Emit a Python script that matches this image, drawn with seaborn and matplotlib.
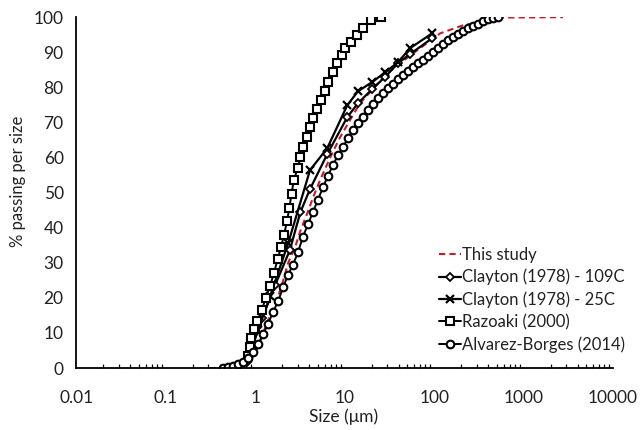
import matplotlib
matplotlib.use("Agg")
import matplotlib.pyplot as plt
from matplotlib.ticker import LogLocator, FixedLocator, FixedFormatter, NullFormatter
import seaborn as sns
import pandas as pd

# Particle size distributions (size in micrometres, cumulative % passing)
this_study_size = [0.31, 0.5, 0.7, 0.88, 1.08, 1.36, 1.76, 2.06, 2.34, 2.8, 3.19,
                   3.81, 4.45, 5.32, 6.89, 8.9, 11.5, 14.9, 29.8, 58.2, 117, 211,
                   391, 550, 2750]
this_study_pct = [0, 0.1, 0.6, 2.0, 6.0, 13.0, 19.5, 25.0, 30.0, 34.5, 39.0,
                  44.0, 48.7, 53.6, 60.0, 65.8, 70.7, 75.5, 84.0, 89.7, 95.4, 97.7,
                  98.9, 99.9, 100]

clayton_109c_size = [0.82, 0.94, 1.2, 1.67, 2.44, 3.2, 4.1, 6.4, 10.7, 14.1,
                     20.3, 28.4, 39.6, 54, 95]
clayton_109c_pct = [1.7, 6.6, 14.2, 23.6, 33.6, 44.4, 51.0, 61.0, 71.5, 75.5,
                    79.5, 83.0, 86.9, 89.5, 94.0]

clayton_25c_size = [0.88, 1.08, 1.47, 2.34, 4.1, 6.4, 10.7, 14.1, 20.3, 28.4,
                    39.6, 54, 95]
clayton_25c_pct = [4.6, 10.8, 20.5, 35.6, 56.4, 62.7, 74.9, 78.9, 81.5, 84.3,
                   87.2, 91.2, 95.4]

razoaki_size = [0.84, 0.87, 0.91, 0.97, 1.06, 1.18, 1.32, 1.47, 1.62, 1.78,
                1.95, 2.1, 2.28, 2.4, 2.55, 2.7, 3.0, 3.2, 3.4, 3.8, 4.1, 4.4,
                4.9, 5.5, 6.1, 6.5, 7.4, 8.2, 9.4, 10.1, 11.8, 13.8, 16.1, 19.8,
                25.6]
razoaki_pct = [3.5, 6.0, 8.5, 11.0, 13.5, 16.5, 20.0, 23.5, 27.0, 31.0,
               34.5, 38.0, 42.0, 45.5, 49.5, 53.6, 57.0, 60.1, 63.0, 65.8, 68.7,
               71.2, 73.8, 76.4, 78.9, 81.5, 84.3, 86.9, 89.2, 91.2, 92.9, 94.9,
               96.9, 99.1, 100]

alvarez_size = [0.439, 0.499, 0.568, 0.645, 0.734, 0.834, 0.949, 1.079, 1.226,
                1.394, 1.585, 1.803, 2.050, 2.330, 2.650, 3.013, 3.425, 3.895,
                4.428, 5.035, 5.725, 6.51, 7.40, 8.41, 9.57, 10.88, 12.37, 14.06,
                15.99, 18.18, 20.67, 23.50, 26.72, 30.38, 34.54, 39.28, 44.66,
                50.78, 57.73, 65.64, 74.64, 84.86, 96.49, 109.7, 124.7, 141.8,
                161.2, 183.3, 208.5, 237.0, 269.5, 306.4, 348.4, 396.1, 450.4,
                512.1]
alvarez_pct = [0, 0.3, 0.6, 1.1, 1.8, 2.9, 4.5, 6.8, 9.6, 12.6, 16.0, 19.0,
               23.0, 26.5, 29.5, 33.0, 37.5, 41.0, 44.5, 48.0, 51.5, 54.8, 57.8,
               60.7, 63.0, 65.5, 67.8, 69.8, 71.6, 73.5, 75.3, 76.9, 78.3, 79.8,
               81.1, 82.3, 83.5, 84.6, 85.8, 86.9, 87.9, 89.0, 90.1, 91.1, 92.3,
               93.4, 94.4, 95.2, 96.0, 96.8, 97.5, 98.2, 98.8, 99.4, 99.8, 100]

x_ticks = [0.01, 0.1, 1, 10, 100, 1000, 10000]
x_tick_labels = ["0.01", "0.1", "1", "10", "100", "1000", "10000"]
y_ticks = list(range(0, 101, 10))

sns.set_style("white")
plt.rcParams["font.family"] = ["Lato", "DejaVu Sans"]

fig = plt.figure(figsize=(6.4, 4.3), dpi=100)
ax = fig.add_axes([0.119, 0.144, 0.839, 0.816])

series = [
    ("This study", this_study_size, this_study_pct,
     dict(color="#c0202a", linestyle=(0, (3, 2)), linewidth=1.5, marker=None)),
    ("Clayton (1978) - 109C", clayton_109c_size, clayton_109c_pct,
     dict(color="black", linewidth=1.6, marker="D", markersize=4.5,
          markerfacecolor="white", markeredgecolor="black", markeredgewidth=1.3)),
    ("Clayton (1978) - 25C", clayton_25c_size, clayton_25c_pct,
     dict(color="black", linewidth=1.6, marker="x", markersize=6,
          markeredgecolor="black", markeredgewidth=1.6)),
    ("Razoaki (2000)", razoaki_size, razoaki_pct,
     dict(color="black", linewidth=1.4, marker="s", markersize=5.5,
          markerfacecolor="white", markeredgecolor="black", markeredgewidth=1.5)),
    ("Alvarez-Borges (2014)", alvarez_size, alvarez_pct,
     dict(color="black", linewidth=1.4, marker="o", markersize=5.5,
          markerfacecolor="white", markeredgecolor="black", markeredgewidth=1.5)),
]

for label, sx, sy, style in series:
    df = pd.DataFrame({"size": sx, "pct": sy})
    sns.lineplot(data=df, x="size", y="pct", ax=ax, label=label, sort=False,
                 estimator=None, **style)

ax.set_xscale("log")
ax.set_xlim(0.01, 10000)
ax.set_ylim(0, 100)

ax.xaxis.set_major_locator(FixedLocator(x_ticks))
ax.xaxis.set_major_formatter(FixedFormatter(x_tick_labels))
ax.xaxis.set_minor_locator(LogLocator(base=10, subs=range(2, 10), numticks=20))
ax.xaxis.set_minor_formatter(NullFormatter())
ax.set_yticks(y_ticks)

for side in ("top", "right"):
    ax.spines[side].set_visible(False)
for side in ("left", "bottom"):
    ax.spines[side].set_color("black")
    ax.spines[side].set_linewidth(1.3)

ax.tick_params(axis="x", which="major", direction="in", length=4, width=1,
               color="black", labelsize=12.5, pad=16, labelcolor="#222222")
ax.tick_params(axis="x", which="minor", direction="in", length=3, width=0.9,
               color="black", bottom=True)
ax.tick_params(axis="y", which="major", direction="in", length=4, width=1,
               color="black", labelsize=12.5, pad=9, labelcolor="#222222")

ax.set_xlabel("Size (μm)", fontsize=12.5, color="#222222")
ax.set_ylabel("% passing per size", fontsize=12, color="#222222")
ax.xaxis.set_label_coords(0.498, -0.115)
ax.yaxis.set_label_coords(-0.094, 0.533)

leg = ax.legend(loc="lower right", bbox_to_anchor=(1.035, 0.025), frameon=False,
                fontsize=12, handlelength=1.3, handletextpad=0.1,
                labelspacing=0.36, borderaxespad=0)
for t in leg.get_texts():
    t.set_color("#222222")

fig.savefig("out.png", dpi=100)
